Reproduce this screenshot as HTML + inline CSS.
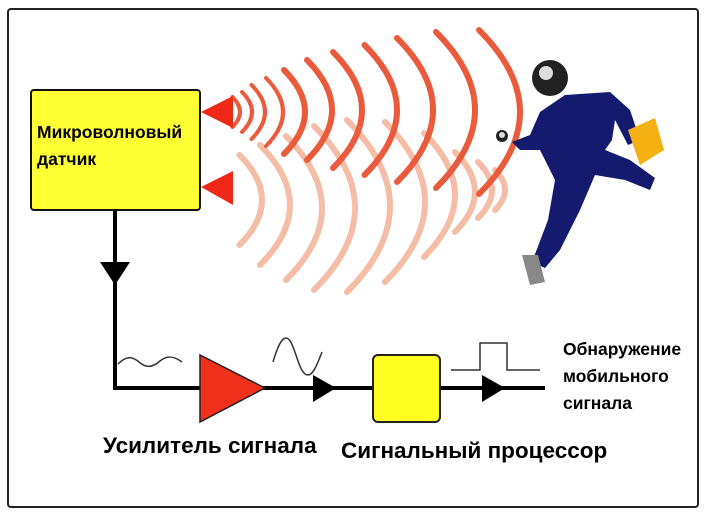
<!DOCTYPE html>
<html><head><meta charset="utf-8"><style>
html,body{margin:0;padding:0;background:#fff;}
svg{display:block;}
text{font-family:"Liberation Sans","DejaVu Sans",sans-serif;font-weight:bold;fill:#000;}
</style></head><body>
<svg id="s" width="708" height="518" viewBox="0 0 708 518" xmlns="http://www.w3.org/2000/svg">
<rect x="8" y="9" width="690" height="498" rx="3" fill="#fff" stroke="#222" stroke-width="2"/>
<g id="arcs"></g>
<!-- sensor -->
<rect x="31" y="90" width="169" height="120" rx="3" fill="#ffff33" stroke="#111" stroke-width="2"/>
<text x="37" y="138" font-size="17.5">Микроволновый</text>
<text x="37" y="165" font-size="17.5">датчик</text>
<polygon points="201,112 233,96 233,128" fill="#f02818"/>
<polygon points="201,187 233,171 233,205" fill="#f02818"/>
<!-- lines -->
<polyline points="115,210 115,388 545,388" fill="none" stroke="#000" stroke-width="4"/>
<polygon points="100,262 130,262 115,285" fill="#000"/>
<polygon points="200,355 200,422 265,388" fill="#f0301a" stroke="#222" stroke-width="1.5"/>
<polygon points="313,375 313,402 336,388" fill="#000"/>
<rect x="373" y="355" width="67" height="67" rx="5" fill="#ffff22" stroke="#222" stroke-width="2"/>
<polygon points="482,375 482,402 505,388" fill="#000"/>
<path d="M118,364 C126,356 132,356 139,362 C146,368 152,368 160,361 C167,355 174,356 182,362" fill="none" stroke="#333" stroke-width="1.5"/>
<path d="M273,362 C278,345 282,338 286,338 C291,338 294,350 297,358 C300,367 303,375 308,375 C313,375 317,365 322,352" fill="none" stroke="#333" stroke-width="1.5"/>
<polyline points="451,370 480,370 480,343 507,343 507,370 540,370" fill="none" stroke="#333" stroke-width="1.5"/>
<text x="563" y="355" font-size="17.5">Обнаружение</text>
<text x="563" y="382" font-size="17.5">мобильного</text>
<text x="563" y="409" font-size="17.5">сигнала</text>
<text x="103" y="453" font-size="22.5">Усилитель сигнала</text>
<text x="341" y="458" font-size="22.5">Сигнальный процессор</text>
<!-- person -->
<g fill="#141a6e">
<polygon points="540,112 565,95 610,92 630,110 640,140 628,145 615,120 612,140 605,150 630,160 655,178 650,190 625,180 595,175 580,210 560,250 545,268 532,262 548,220 555,180 540,150 520,150 512,142 530,135"/>
</g>
<circle cx="550" cy="78" r="18" fill="#222"/>
<circle cx="546" cy="73" r="7" fill="#ddd"/>
<circle cx="502" cy="136" r="6" fill="#222"/>
<circle cx="502" cy="135" r="3" fill="#ddd"/>
<polygon points="628,130 655,118 664,150 640,165" fill="#f5b012"/>
<polygon points="522,255 538,255 545,282 530,285" fill="#888"/>
</svg>
<script>
var g=document.getElementById('arcs'),ns='http://www.w3.org/2000/svg';
function arc(px,h,cy,w,col){var s=h*0.5;var x0=px-s;var p=document.createElementNS(ns,'path');
p.setAttribute('d','M'+x0+','+(cy-h)+' Q'+(x0+2*s)+','+cy+' '+x0+','+(cy+h));
p.setAttribute('fill','none');p.setAttribute('stroke',col);p.setAttribute('stroke-width',w);p.setAttribute('stroke-linecap','round');g.appendChild(p);}
var L=[[262,45,200],[290,60,205],[322,72,208],[355,82,208],[390,86,206],[425,80,202],[455,62,195],[475,40,192],[492,28,190],[505,20,190]];
L.forEach(function(a){arc(a[0],a[1],a[2],6,'#f5bca6');});
var D=[[240,15,112],[252,20,112],[265,27,112],[283,34,112],[305,42,112],[332,50,110],[362,58,110],[397,65,110],[433,72,110],[475,78,110],[520,82,112]];
D.forEach(function(a,i){arc(a[0],a[1],a[2],i<4?4:6,'#ea5a3c');});
</script>
</body></html>
